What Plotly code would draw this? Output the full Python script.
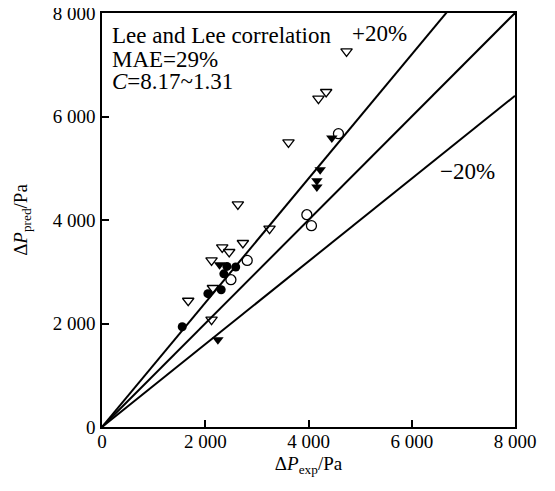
import plotly.graph_objects as go

# Data (Pa)
fc_x = [1554, 2051, 2309, 2360, 2420, 2590]
fc_y = [1938, 2576, 2653, 2960, 3103, 3092]
oc_x = [2497, 2813, 3968, 4057, 4580]
oc_y = [2846, 3219, 4102, 3890, 5668]
ot_x = [1670, 2122, 2148, 2122, 2329, 2464, 2729, 2632, 3245, 3612, 4193, 4342, 4737]
ot_y = [2440, 2073, 2686, 3219, 3471, 3382, 3556, 4301, 3832, 5500, 6344, 6473, 7258]
ft_x = [2245, 2277, 4162, 4162, 4226, 4452]
ft_y = [1687, 3136, 4637, 4760, 4972, 5585]

line_x = [0, 8000]
ratios = [1.0, 1.2, 0.8]
tick_vals = [0, 2000, 4000, 6000, 8000]
tick_text = ["0", "2 000", "4 000", "6 000", "8 000"]

FONT = "Liberation Serif"

fig = go.Figure()
for r in ratios:
    xs = [v for v in line_x]
    ys = [v * r for v in line_x]
    fig.add_trace(go.Scatter(x=xs, y=ys, mode="lines",
                             line=dict(color="black", width=2), showlegend=False,
                             cliponaxis=True))

mk_line = dict(color="black", width=1.3)
fig.add_trace(go.Scatter(x=ot_x, y=ot_y, mode="markers", showlegend=False,
                         marker=dict(symbol="triangle-down-open", size=10, color="black", line=mk_line)))
fig.add_trace(go.Scatter(x=oc_x, y=oc_y, mode="markers", showlegend=False,
                         marker=dict(symbol="circle-open", size=10, color="black", line=mk_line)))
fig.add_trace(go.Scatter(x=fc_x, y=fc_y, mode="markers", showlegend=False,
                         marker=dict(symbol="circle", size=9, color="black")))
fig.add_trace(go.Scatter(x=ft_x, y=ft_y, mode="markers", showlegend=False,
                         marker=dict(symbol="triangle-down", size=10, color="black")))

axis_common = dict(range=[0, 8000], tickvals=tick_vals, ticktext=tick_text,
                   ticks="inside", ticklen=7, tickwidth=1.5, tickcolor="black",
                   showline=True, linecolor="black", linewidth=1.5, mirror=True,
                   showgrid=False, zeroline=False, automargin=False,
                   ticklabeloverflow="allow",
                   tickfont=dict(family=FONT, size=19, color="black"))

fig.update_layout(
    width=547, height=483,
    margin=dict(l=94, r=40, t=5, b=64),
    plot_bgcolor="white", paper_bgcolor="white",
    xaxis=dict(**axis_common, ticklabelstandoff=-4,
               title=dict(text="Δ<i>P</i><sub>exp</sub>/Pa", standoff=6,
                          font=dict(family=FONT, size=19, color="black"))),
    yaxis=dict(**axis_common, ticklabelstandoff=1,
               title=dict(text="Δ<i>P</i><sub>pred</sub>/Pa", standoff=20,
                          font=dict(family=FONT, size=19, color="black"))),
)

ann_font = dict(family=FONT, size=23, color="black")
texts = [
    ("Lee and Lee correlation", 160, 7560),
    ("MAE=29%", 160, 7110),
    ("<i>C</i>=8.17~1.31", 160, 6670),
]
for t, x, y in texts:
    fig.add_annotation(x=x, y=y, text=t, showarrow=False, xanchor="left", yanchor="middle",
                       font=ann_font)
fig.add_annotation(x=4800, y=7600, text="+20%", showarrow=False, xanchor="left",
                   yanchor="middle", font=ann_font)
fig.add_annotation(x=6510, y=4930, text="−20%", showarrow=False, xanchor="left",
                   yanchor="middle", font=ann_font)

fig.write_html("out.html")
